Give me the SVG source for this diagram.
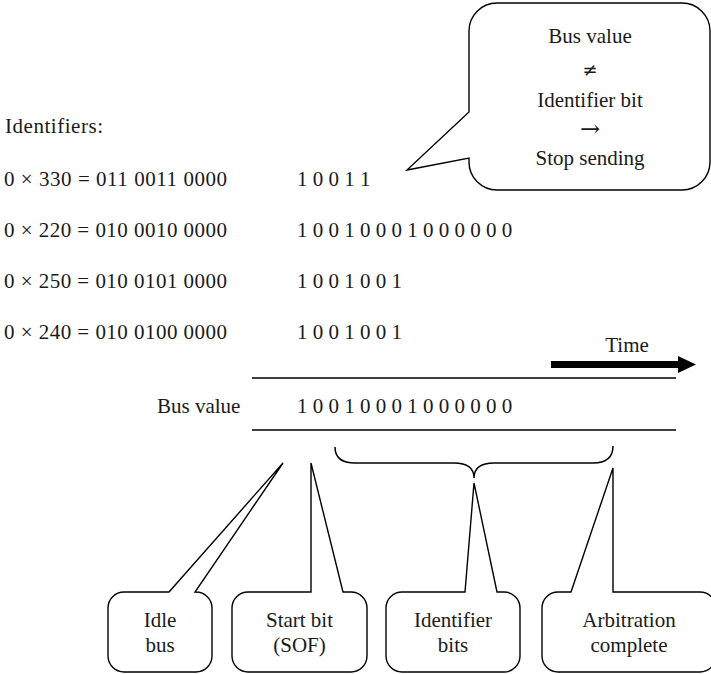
<svg xmlns="http://www.w3.org/2000/svg" width="711" height="674" viewBox="0 0 711 674">
<style>
text{font-family:"Liberation Serif","Times New Roman",serif;font-size:21px;fill:#1a1a1a}
.mid{text-anchor:middle}
.sym{font-family:"DejaVu Serif","Liberation Serif",serif;font-size:18px}
.arr{font-family:"DejaVu Serif","Liberation Serif",serif;font-size:24px}
.shape{fill:#fff;stroke:#000;stroke-width:1.4;stroke-linejoin:miter}
.line{fill:none;stroke:#000;stroke-width:1.5}
</style>
<rect width="711" height="674" fill="#fff"/>
<g id="callout-stop">
<path class="shape" d="M497,3 L682,3 A28,28 0 0 1 710,31 L710,162 A28,28 0 0 1 682,190 L497,190 A28,28 0 0 1 469,162 L469,158 L407,170 L469,112 L469,31 A28,28 0 0 1 497,3 Z"/>
<text class="mid" x="590" y="43">Bus value</text>
<text class="mid sym" x="590" y="76">≠</text>
<text class="mid" x="590" y="107">Identifier bit</text>
<text class="mid arr" x="590" y="137">→</text>
<text class="mid" x="590" y="165">Stop sending</text>
</g>
<g id="identifiers">
<text x="5" y="133" textLength="98" lengthAdjust="spacing">Identifiers:</text>
<text x="4" y="186" textLength="223" lengthAdjust="spacing">0 × 330 = 011 0011 0000</text>
<text x="4" y="237" textLength="223" lengthAdjust="spacing">0 × 220 = 010 0010 0000</text>
<text x="4" y="288" textLength="223" lengthAdjust="spacing">0 × 250 = 010 0101 0000</text>
<text x="4" y="339" textLength="223" lengthAdjust="spacing">0 × 240 = 010 0100 0000</text>
</g>
<g id="bits">
<text x="297" y="186">1 0 0 1 1</text>
<text x="297" y="237">1 0 0 1 0 0 0 1 0 0 0 0 0 0</text>
<text x="297" y="288">1 0 0 1 0 0 1</text>
<text x="297" y="339">1 0 0 1 0 0 1</text>
</g>
<g id="time">
<text class="mid" x="627" y="352">Time</text>
</g>
<g id="bus">
<text x="157" y="413">Bus value</text>
<text x="297" y="413">1 0 0 1 0 0 0 1 0 0 0 0 0 0</text>
</g>
<g id="connectors">
<rect x="551" y="361" width="130" height="7" fill="#000"/>
<polygon points="678,356 696,364.5 678,373" fill="#000"/>
<line class="line" x1="252" y1="378" x2="676" y2="378"/>
<line class="line" x1="252" y1="430" x2="676" y2="430"/>
<path class="line" d="M335,447 Q335,463 355,463 L454,463 Q474,463 474,478 Q474,463 494,463 L593,463 Q613,463 613,446"/>
</g>
<g id="idle-bus">
<path class="shape" d="M124,592 L169,592 L283,463 L195,592 L196,592 A16,16 0 0 1 212,608 L212,656 A16,16 0 0 1 196,672 L124,672 A16,16 0 0 1 108,656 L108,608 A16,16 0 0 1 124,592 Z"/>
<text class="mid" x="160" y="627">Idle</text>
<text class="mid" x="160" y="652">bus</text>
</g>
<g id="start-bit">
<path class="shape" d="M248,592 L311,592 L311,463 L343,592 L351,592 A16,16 0 0 1 367,608 L367,656 A16,16 0 0 1 351,672 L248,672 A16,16 0 0 1 232,656 L232,608 A16,16 0 0 1 248,592 Z"/>
<text class="mid" x="299.5" y="627">Start bit</text>
<text class="mid" x="299.5" y="652">(SOF)</text>
</g>
<g id="identifier-bits">
<path class="shape" d="M402,592 L465,592 L474,483 L497,592 L504,592 A16,16 0 0 1 520,608 L520,656 A16,16 0 0 1 504,672 L402,672 A16,16 0 0 1 386,656 L386,608 A16,16 0 0 1 402,592 Z"/>
<text class="mid" x="453" y="627">Identifier</text>
<text class="mid" x="453" y="652">bits</text>
</g>
<g id="arbitration">
<path class="shape" d="M558,592 L571,592 L613,468 L613,592 L700,592 A16,16 0 0 1 716,608 L716,656 A16,16 0 0 1 700,672 L558,672 A16,16 0 0 1 542,656 L542,608 A16,16 0 0 1 558,592 Z"/>
<text class="mid" x="629" y="627">Arbitration</text>
<text class="mid" x="629" y="652">complete</text>
</g>
</svg>
